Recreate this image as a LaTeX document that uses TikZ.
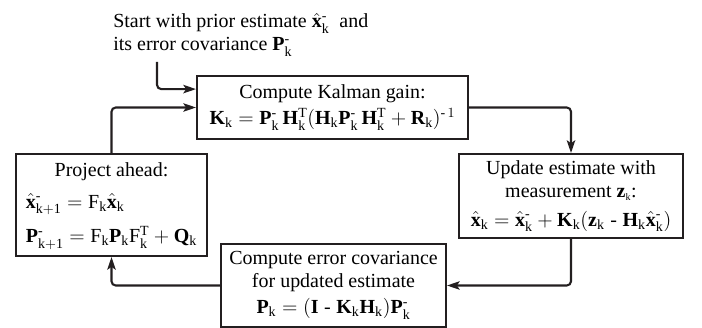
\documentclass[tikz,border=0pt]{standalone}
\usepackage{amsmath}
\usepackage{fontspec}
\setmainfont{Liberation Serif}
\usepackage{tikz}
\usetikzlibrary{arrows.meta,positioning}

\definecolor{ink}{HTML}{231F20}
\newcommand{\bx}{\hat{\mathbf{x}}}
\newcommand{\kk}{\mathrm{k}}
\newcommand{\hy}{\text{-}}
\newcommand{\fs}{\fontsize{14.2}{16.5}\selectfont}

\begin{document}
\begin{tikzpicture}[x=0.025cm,y=-0.025cm,font=\fs,
  box/.style={rectangle,draw=ink,line width=1.4pt,align=center,inner sep=2pt},
  arrow/.style={-{Stealth[length=9pt,width=6pt,inset=2pt]},line width=1.5pt,draw=ink,
                rounded corners=3pt}]
\useasboundingbox (0,0) rectangle (702,328);

\node[anchor=north west,align=left,inner sep=0pt] (start) at (113,13)
  {Start with prior estimate $\bx_\kk^\hy$\ \ and\\
   its error covariance $\mathbf{P}_\kk^\hy$};

\node[box,minimum width=6.775cm,minimum height=1.575cm] (kalman) at (332.5,107.5)
  {Compute Kalman gain:\\[2pt]
   $\mathbf{K}_\kk = \mathbf{P}_\kk^\hy\,\mathbf{H}_\kk^{\mathrm{T}}
    (\mathbf{H}_\kk\mathbf{P}_\kk^\hy\,\mathbf{H}_\kk^{\mathrm{T}}
    + \mathbf{R}_\kk)^{\hy\,1}$};
\node[box,minimum width=5.6cm,minimum height=2.1cm] (update) at (571,196)
  {Update estimate with\\
   measurement $\mathbf{z}_{\scriptscriptstyle\kk}$:\\[4pt]
   $\bx_\kk = \bx_\kk^\hy + \mathbf{K}_\kk(\mathbf{z}_\kk
    \;\hy\; \mathbf{H}_\kk\bx_\kk^\hy)$};
\node[box,minimum width=5.625cm,minimum height=2.075cm] (ecov) at (333.5,285.5)
  {Compute error covariance\\
   for updated estimate\\[2pt]
   $\mathbf{P}_\kk = (\mathbf{I}\;\hy\;\mathbf{K}_\kk\mathbf{H}_\kk)\mathbf{P}_\kk^\hy$};
\node[box,minimum width=4.775cm,minimum height=2.55cm] (project) at (111.5,205)
  {\begin{tabular}{@{}l@{}}
   \multicolumn{1}{@{}c@{}}{Project ahead:}\\[6pt]
   $\bx_{\mathrm{k+1}}^\hy = \mathrm{F}_\kk\bx_\kk$\\[8pt]
   $\mathbf{P}_{\mathrm{k+1}}^\hy = \mathrm{F}_\kk\mathbf{P}_\kk\mathrm{F}_\kk^{\mathrm{T}}
    + \mathbf{Q}_\kk$
   \end{tabular}};

% loop
\draw[arrow] (kalman.east) -| (update.north);
\draw[arrow] (update.south) |- (ecov.east);
\draw[arrow] (ecov.west) -| (project.south);
\draw[arrow] (project.north) |- (kalman.west);

% initial estimate
\coordinate (feed) at (157,62);
\coordinate (kin) at ([yshift=0.46cm]kalman.west);
\draw[arrow] (feed) |- (kin);
\end{tikzpicture}
\end{document}
